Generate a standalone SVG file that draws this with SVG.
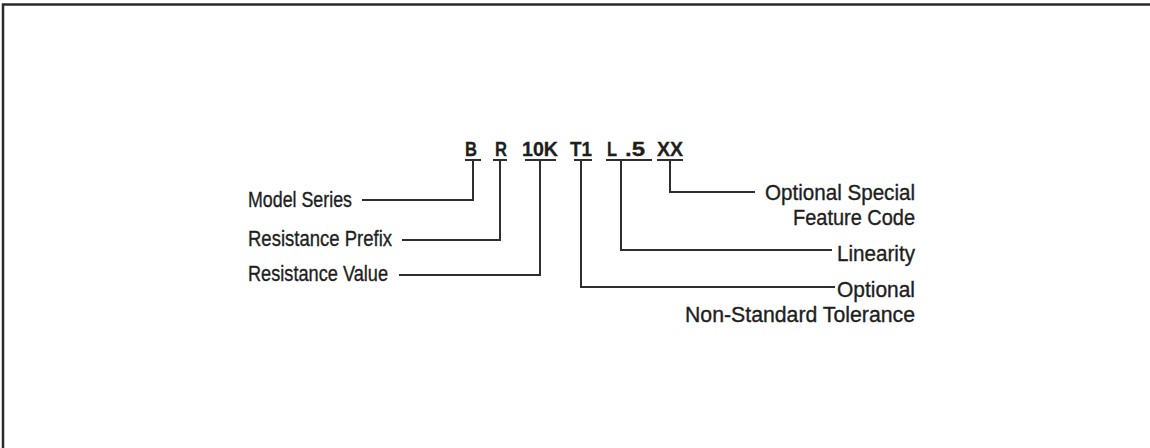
<svg xmlns="http://www.w3.org/2000/svg" width="1150" height="448" viewBox="0 0 1150 448">
<style>
.frame{fill:none;stroke:#2b2b2b;stroke-width:2.5}
.ln{fill:none;stroke:#2e2e2e;stroke-width:2}
.lbl{font-family:"Liberation Sans",Arial,sans-serif;font-size:22px;fill:#1e1e1e;stroke:#1e1e1e;stroke-width:0.35}
.code{font-family:"Liberation Sans",Arial,sans-serif;font-size:20px;font-weight:bold;fill:#1e1e1e;stroke:#1e1e1e;stroke-width:0.3}
</style>
<rect width="1150" height="448" fill="#ffffff"/>
<path class="frame" d="M3,448 V4.5 H1150"/>
<g id="code">
<text class="code" x="465" y="156" textLength="12" lengthAdjust="spacingAndGlyphs">B</text>
<text class="code" x="495" y="156" textLength="12" lengthAdjust="spacingAndGlyphs">R</text>
<text class="code" x="522" y="156" textLength="36" lengthAdjust="spacingAndGlyphs">10K</text>
<text class="code" x="570" y="156" textLength="22" lengthAdjust="spacingAndGlyphs">T1</text>
<text class="code" x="607" y="156" textLength="10" lengthAdjust="spacingAndGlyphs">L</text>
<text class="code" x="625" y="156" textLength="20" lengthAdjust="spacingAndGlyphs">.5</text>
<text class="code" x="657" y="156" textLength="26" lengthAdjust="spacingAndGlyphs">XX</text>
</g>
<g id="connectors">
<path class="ln" d="M465,160 H481 M473,160 V200 H362"/>
<path class="ln" d="M493,160 H507 M500,160 V240 H402"/>
<path class="ln" d="M525,160 H556 M540,160 V275 H399"/>
<path class="ln" d="M574,160 H592 M581,160 V287 H835"/>
<path class="ln" d="M606,160 H652 M621,160 V250 H832"/>
<path class="ln" d="M657,160 H683 M670,160 V192 H755"/>
</g>
<g id="model-series"><text class="lbl" x="248" y="207" textLength="104" lengthAdjust="spacingAndGlyphs">Model Series</text></g>
<g id="resistance-prefix"><text class="lbl" x="248" y="246" textLength="144" lengthAdjust="spacingAndGlyphs">Resistance Prefix</text></g>
<g id="resistance-value"><text class="lbl" x="248" y="281" textLength="140" lengthAdjust="spacingAndGlyphs">Resistance Value</text></g>
<g id="special-feature">
<text class="lbl" x="765" y="200" textLength="150" lengthAdjust="spacingAndGlyphs">Optional Special</text>
<text class="lbl" x="793" y="225" textLength="122" lengthAdjust="spacingAndGlyphs">Feature Code</text>
</g>
<g id="linearity"><text class="lbl" x="837" y="261" textLength="78" lengthAdjust="spacingAndGlyphs">Linearity</text></g>
<g id="tolerance">
<text class="lbl" x="837" y="297" textLength="78" lengthAdjust="spacingAndGlyphs">Optional</text>
<text class="lbl" x="685" y="322" textLength="230" lengthAdjust="spacingAndGlyphs">Non-Standard Tolerance</text>
</g>
</svg>
